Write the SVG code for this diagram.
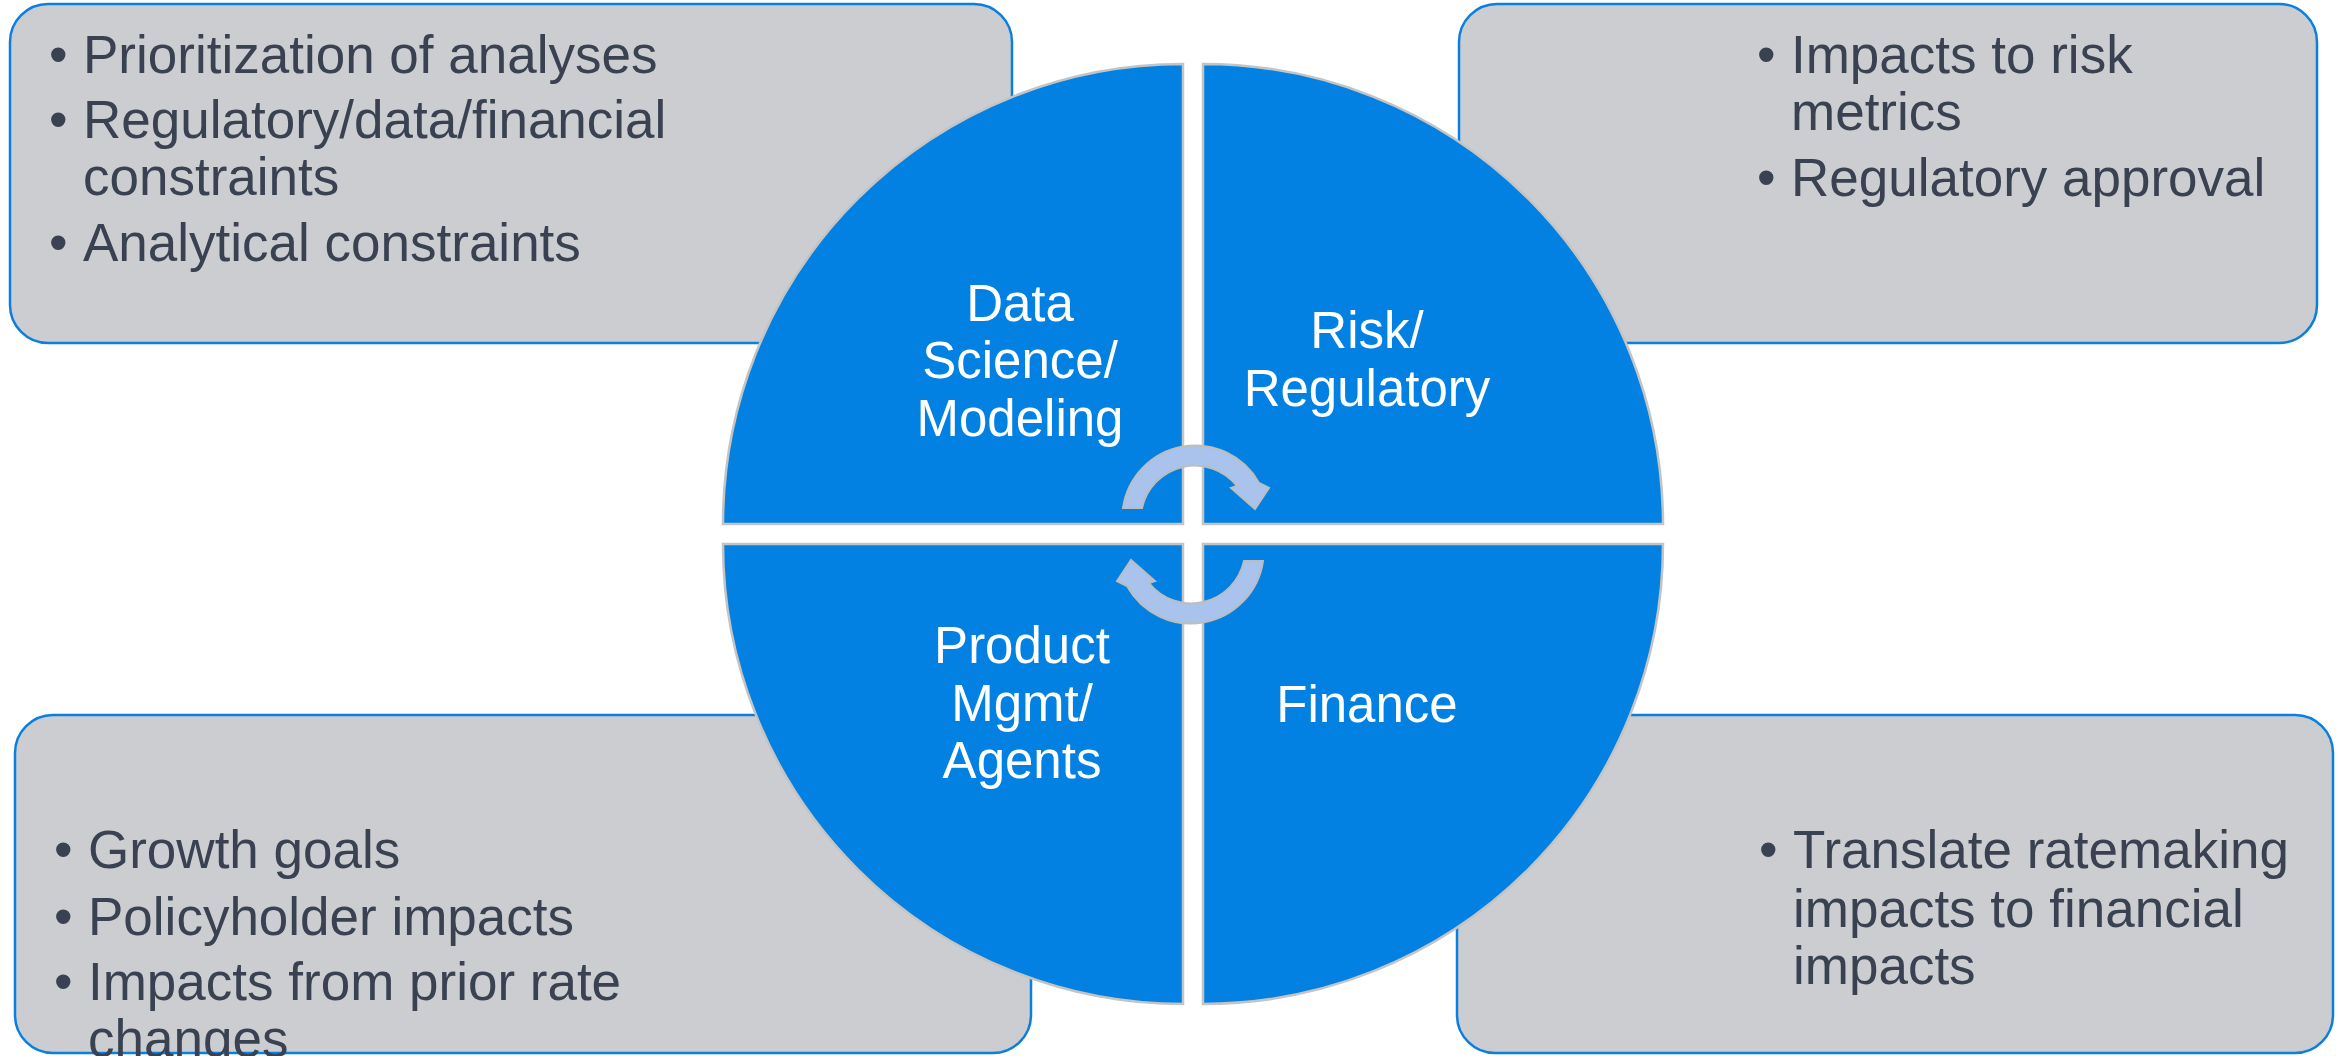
<svg xmlns="http://www.w3.org/2000/svg" width="2349" height="1056" viewBox="0 0 2349 1056">
  <style>
    .box { fill: #CBCDD0; stroke: #0A7FE0; stroke-width: 2.5; }
    .bt { font-family: "Liberation Sans", Arial, sans-serif; font-size: 53px; fill: #3A4252; }
    .quad { fill: #0381E3; stroke: #C4C4C4; stroke-width: 2.5; }
    .ql { font-family: "Liberation Sans", Arial, sans-serif; font-size: 51px; fill: #FFFFFF; text-anchor: middle; }
    .arr { fill: #A9C3EC; stroke: #BDBDBD; stroke-width: 2; }
  </style>
  <rect width="2349" height="1056" fill="#FFFFFF"/>

  <g id="box-data-science">
    <rect class="box" x="10" y="4" width="1002" height="339" rx="38"/>
    <text class="bt" x="49" y="73">•</text>
    <text class="bt" x="83" y="73">Prioritization of analyses</text>
    <text class="bt" x="49" y="138">•</text>
    <text class="bt" x="83" y="138">Regulatory/data/financial</text>
    <text class="bt" x="83" y="195">constraints</text>
    <text class="bt" x="49" y="261">•</text>
    <text class="bt" x="83" y="261">Analytical constraints</text>
  </g>

  <g id="box-risk">
    <rect class="box" x="1459" y="4" width="858" height="339" rx="38"/>
    <text class="bt" x="1757" y="73">•</text>
    <text class="bt" x="1791" y="73">Impacts to risk</text>
    <text class="bt" x="1791" y="130">metrics</text>
    <text class="bt" x="1757" y="196">•</text>
    <text class="bt" x="1791" y="196">Regulatory approval</text>
  </g>

  <g id="box-product">
    <rect class="box" x="15" y="715" width="1016" height="338" rx="38"/>
    <text class="bt" x="54" y="868">•</text>
    <text class="bt" x="88" y="868">Growth goals</text>
    <text class="bt" x="54" y="935">•</text>
    <text class="bt" x="88" y="935">Policyholder impacts</text>
    <text class="bt" x="54" y="1000">•</text>
    <text class="bt" x="88" y="1000">Impacts from prior rate</text>
    <text class="bt" x="88" y="1057">changes</text>
  </g>

  <g id="box-finance">
    <rect class="box" x="1457" y="715" width="876" height="338" rx="38"/>
    <text class="bt" x="1759" y="868">•</text>
    <text class="bt" x="1793" y="868">Translate ratemaking</text>
    <text class="bt" x="1793" y="927">impacts to financial</text>
    <text class="bt" x="1793" y="984">impacts</text>
  </g>

  <g id="quad-data-science">
    <path class="quad" d="M1183 524 L723 524 A460 460 0 0 1 1183 64 Z"/>
    <text class="ql" x="1020" y="321">Data</text>
    <text class="ql" x="1020" y="378">Science/</text>
    <text class="ql" x="1020" y="436">Modeling</text>
  </g>

  <g id="quad-risk">
    <path class="quad" d="M1203 524 L1203 64 A460 460 0 0 1 1663 524 Z"/>
    <text class="ql" x="1367" y="348">Risk/</text>
    <text class="ql" x="1367" y="406">Regulatory</text>
  </g>

  <g id="quad-product">
    <path class="quad" d="M1183 544 L1183 1004 A460 460 0 0 1 723 544 Z"/>
    <text class="ql" x="1022" y="663">Product</text>
    <text class="ql" x="1022" y="721">Mgmt/</text>
    <text class="ql" x="1022" y="778">Agents</text>
  </g>

  <g id="quad-finance">
    <path class="quad" d="M1203 544 L1663 544 A460 460 0 0 1 1203 1004 Z"/>
    <text class="ql" x="1367" y="722">Finance</text>
  </g>

  <g id="connectors">
    <path id="arrow-top" class="arr" d="M1123 508 A73 73 0 0 1 1259 483 L1269 488 L1255 509 L1231 488 L1237 486 A54 54 0 0 0 1142 508 Z"/>
    <path id="arrow-bottom" class="arr" transform="rotate(180 1193 534.5)" d="M1123 508 A73 73 0 0 1 1259 483 L1269 488 L1255 509 L1231 488 L1237 486 A54 54 0 0 0 1142 508 Z"/>
  </g>
</svg>
